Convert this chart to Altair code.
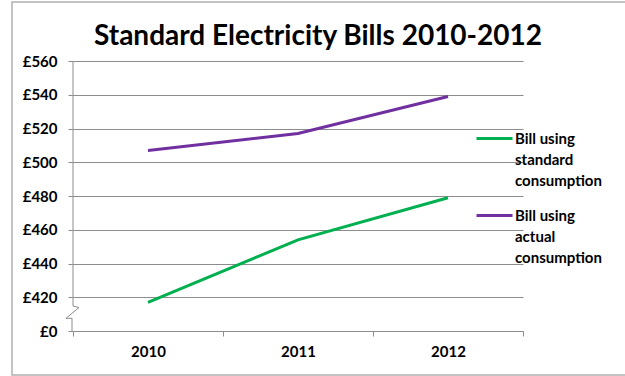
import altair as alt
import pandas as pd

# ---- data ----
years = ["2010", "2011", "2012"]
standard_bill = [417, 454, 479]
actual_bill = [507, 517, 539]
series_names = ["Bill using standard consumption", "Bill using actual consumption"]
series_colors = ["#00B050", "#7030A0"]
y_tick_values = [400, 420, 440, 460, 480, 500, 520, 540, 560]  # 400 is shown as the broken-axis "£0"

df = pd.DataFrame({
    "year": years * 2,
    "bill": standard_bill + actual_bill,
    "series": [series_names[0]] * 3 + [series_names[1]] * 3,
})

# axis-break glyph (decoration, in pixels relative to the plot origin)
brk_x = [0, 0, 6, -7, -1, -1]
brk_y = [0, 245, 246.5, 257.3, 257.3, 270]
brk = pd.DataFrame({"px": brk_x, "py": brk_y, "i": list(range(len(brk_x)))})

FONT = "Lato"
GRID = "#8c8c8c"

lines = alt.Chart(df).mark_line(strokeWidth=3).encode(
    x=alt.X("year:O",
            scale=alt.Scale(type="band", paddingInner=0, paddingOuter=0),
            axis=alt.Axis(title=None, labelAngle=0, tickBand="extent", grid=False,
                          domainColor=GRID, tickColor=GRID, tickSize=5,
                          labelFont=FONT, labelFontSize=15, labelFontWeight="bold",
                          labelColor="#000", labelPadding=8)),
    y=alt.Y("bill:Q",
            scale=alt.Scale(domain=[400, 560], nice=False, zero=False),
            axis=alt.Axis(title=None, values=y_tick_values, domain=False,
                          labelExpr="datum.value == 400 ? '£0' : '£' + datum.value",
                          grid=True, gridColor=GRID, gridOpacity=1,
                          tickColor=GRID, tickSize=5, labelPadding=11,
                          labelFont=FONT, labelFontSize=15, labelFontWeight="bold",
                          labelColor="#000")),
    color=alt.Color("series:N",
                    scale=alt.Scale(domain=series_names, range=series_colors),
                    legend=alt.Legend(
                        title=None, orient="none", legendX=402, legendY=51,
                        direction="vertical", padding=0,
                        symbolType="M-1,0.39L1,0.39", symbolSize=1296, symbolStrokeWidth=3,
                        labelOffset=1, labelFont=FONT, labelFontSize=15,
                        labelFontWeight="bold", labelColor="#000",
                        labelBaseline="top", rowPadding=-11,
                        labelExpr="datum.label == 'Bill using standard consumption' ? ['Bill using','standard','consumption'] : ['Bill using','actual','consumption']")),
)

axis_break = alt.Chart(brk).mark_line(color=GRID, strokeWidth=1).encode(
    x=alt.X("px:Q", scale=None, axis=None),
    y=alt.Y("py:Q", scale=None, axis=None),
    order=alt.Order("i:Q"),
)

border = alt.Chart(pd.DataFrame({"a": [0]})).mark_rect(
    fillOpacity=0, stroke="#b0b0b0", strokeWidth=1.5
).encode(
    x=alt.value(-61), x2=alt.value(600), y=alt.value(-59), y2=alt.value(314)
)

chart = alt.layer(border, lines, axis_break).resolve_scale(
    x="independent", y="independent"
).properties(
    width=450, height=270,
    padding={"left": 73, "top": 61, "right": 102, "bottom": 45},
    autosize=alt.AutoSizeParams(type="none"),
    title=alt.TitleParams("Standard Electricity Bills 2010-2012", font=FONT, fontSize=28,
                          fontWeight="bold", color="#000", anchor="middle", dx=20,
                          baseline="alphabetic", offset=15, dy=87),
).configure(style={"guide-label": {"lineHeight": 21}}).configure_view(stroke=None)

chart.save("out.html", embed_options={"renderer": "svg", "actions": False})
